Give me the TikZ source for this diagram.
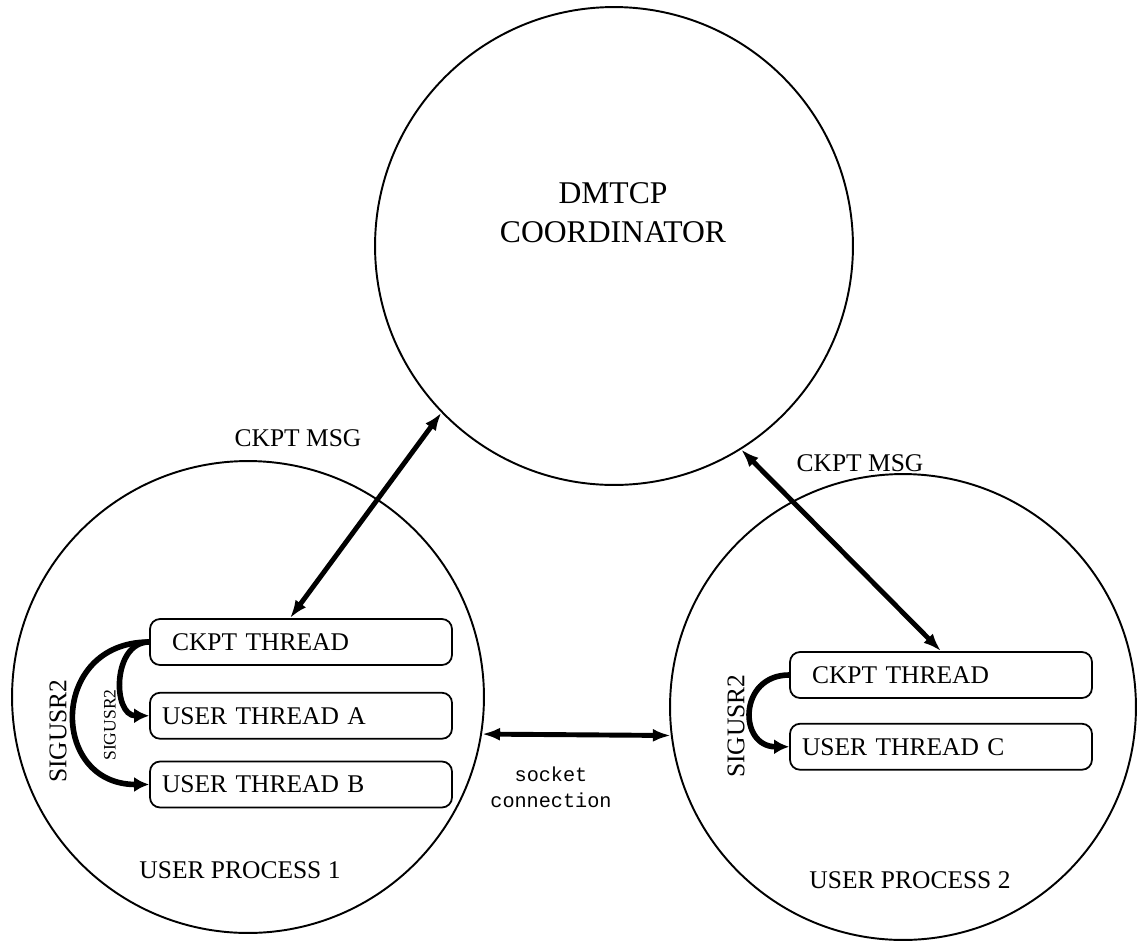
\documentclass[tikz,border=0pt]{standalone}
\usepackage{fontspec}
\setmainfont{Liberation Serif}
\setmonofont{Liberation Mono}
\usepackage{tikz}
\usetikzlibrary{arrows.meta,positioning,calc}

\begin{document}
\begin{tikzpicture}[x=0.02cm, y=-0.02cm,
    proc/.style={draw, circle, line width=1.1pt, inner sep=0pt},
    thread/.style={draw, rounded corners=0.2cm, line width=1pt,
        minimum width=6.04cm, minimum height=0.92cm, text width=5.56cm,
        inner xsep=0.24cm, align=left, font=\fontsize{14.5}{17}\selectfont},
    lbl/.style={font=\fontsize{14.5}{17}\selectfont},
    msg/.style={{Latex[length=0.36cm,width=0.26cm]}-{Latex[length=0.36cm,width=0.26cm]}, line width=2.8pt},
    sig/.style={-{Latex[length=0.3cm,width=0.3cm]}, line width=3.2pt}]

\useasboundingbox (0,0) rectangle (1137,944);

% Coordinator (top)
\node[proc, minimum size=9.56cm] (coord) at (614,246) {};
\node[font=\fontsize{18}{22}\selectfont, align=center] (coordtxt) at (613,213) {DMTCP\\COORDINATOR};

% User process 1 (bottom left)
\node[proc, minimum size=9.44cm] (proc1) at (248,697) {};
\node[thread] (ckpt1) at (301,642) {\hspace{0.2cm}CKPT THREAD};
\node[thread, below=0.52cm of ckpt1] (userA) {USER THREAD A};
\node[thread, below=0.42cm of userA] (userB) {USER THREAD B};
\node[lbl] (proc1txt) at (240,870) {USER PROCESS 1};

% User process 2 (bottom right)
\node[proc, minimum size=9.32cm] (proc2) at (903,707) {};
\node[thread] (ckpt2) at (941,675) {\hspace{0.2cm}CKPT THREAD};
\node[thread, below=0.48cm of ckpt2] (userC) {USER THREAD C};
\node[lbl] (proc2txt) at (910,880) {USER PROCESS 2};

% Checkpoint messages
\draw[msg] (coord.224) -- ([xshift=-0.22cm]ckpt1.north);
\draw[msg] (coord.302) -- (ckpt2.north);
\node[lbl] (msg1txt) at (298,438) {CKPT MSG};
\node[lbl] (msg2txt) at (860,463) {CKPT MSG};

% Socket between processes
\draw[msg] (proc1.-9.5) -- (proc2.187.1);
\node[font=\ttfamily\fontsize{11.5}{15}\selectfont, align=center] (socktxt) at (551,787) {socket\\connection};

% Signals to user threads
\draw[sig] (ckpt1.west) .. controls +(-100,0) and +(-100,0) .. (userB.west);
\draw[sig] (ckpt1.west) .. controls +(-37,0) and +(-37,0) .. (userA.west);
\draw[sig] (ckpt2.west) .. controls +(-51,0) and +(-51,0) .. (userC.west);
\node[lbl, rotate=90] (sig1txt) at (58,731) {SIGUSR2};
\node[font=\fontsize{10}{12}\selectfont, rotate=90] (sig2txt) at (110,725) {SIGUSR2};
\node[lbl, rotate=90] (sig3txt) at (736,726) {SIGUSR2};

\end{tikzpicture}
\end{document}
